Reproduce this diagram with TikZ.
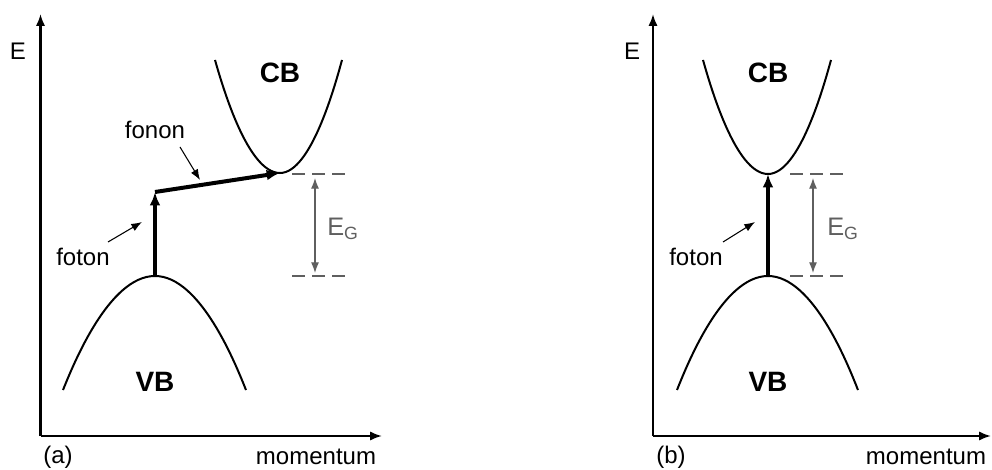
\documentclass[tikz,border=0pt]{standalone}
\usepackage{fontspec}
\setmainfont{Liberation Sans}
\usetikzlibrary{arrows.meta}
\definecolor{gapgray}{RGB}{95,95,95}
\tikzset{
  axis/.style={line width=1.6pt,-{Latex[length=9pt,width=7pt]}},
  band/.style={line width=1.5pt},
  trans/.style={line width=3pt,-{Latex[length=10pt,width=8pt]}},
  pointer/.style={line width=0.8pt,-{Latex[length=8pt,width=6pt]}},
  gapline/.style={gapgray,line width=1.5pt,dash pattern=on 9.75pt off 5.25pt},
  gaparrow/.style={gapgray,line width=0.9pt,{Latex[length=8pt,width=6pt]}-{Latex[length=8pt,width=6pt]}},
  lbl/.style={font=\fontsize{18}{20}\selectfont,inner sep=0pt},
  bandlbl/.style={font=\fontsize{21}{24}\selectfont\bfseries,inner sep=0pt},
  eglbl/.style={font=\fontsize{19}{21}\selectfont,text=gapgray,inner sep=0pt}
}
\begin{document}
\begin{tikzpicture}[x=0.75pt,y=-0.75pt]
\useasboundingbox (0,0) rectangle (992,470);
% ---------- panel (a) ----------
\coordinate (aO) at (40.5,436);
\coordinate (aY) at (40.5,14);
\coordinate (aX) at (382,436);
\draw[axis] (aO) -- (aY);
\draw[axis] (aO) -- (aX);
\node[lbl] (aE) at (18,51) {E};
\node[lbl] (alab) at (58,457) {(a)};
\node[lbl] (amom) at (316,457) {momentum};
\coordinate (aCBmin) at (280,173);
\coordinate (aVBmax) at (155,276);
\coordinate (aMid) at (155,192);
\draw[band] (215,60) parabola bend (aCBmin) (342,60);
\draw[band] (63,390) parabola bend (aVBmax) (246,390);
\node[bandlbl] (aCB) at (280,73) {CB};
\node[bandlbl] (aVB) at (155,382) {VB};
\draw[trans] (aVBmax) -- (aMid);
\draw[trans] (aMid) -- (aCBmin);
\node[lbl] (afonon) at (155,130) {fonon};
\node[lbl] (afoton) at (83,257) {foton};
\coordinate (afononT) at (200,180);
\coordinate (afotonT) at (142,222);
\draw[pointer] (180,147) -- (afononT);
\draw[pointer] (108,242) -- (afotonT);
\draw[gapline] (292,174) -- (346,174);
\draw[gapline] (292,276) -- (346,276);
\draw[gaparrow] (315,178) -- (315,273);
\node[eglbl] (aEG) at (343,229) {E\textsubscript{G}};
% ---------- panel (b) ----------
\coordinate (bO) at (653,436);
\coordinate (bY) at (653,14);
\coordinate (bX) at (991,436);
\draw[axis] (bO) -- (bY);
\draw[axis] (bO) -- (bX);
\node[lbl] (bE) at (632,51) {E};
\node[lbl] (blab) at (671,457) {(b)};
\node[lbl] (bmom) at (926,457) {momentum};
\coordinate (bCBmin) at (768,174);
\coordinate (bVBmax) at (768,276);
\draw[band] (703,60) parabola bend (bCBmin) (831,60);
\draw[band] (677,390) parabola bend (bVBmax) (858,390);
\node[bandlbl] (bCB) at (768,73) {CB};
\node[bandlbl] (bVB) at (768,382) {VB};
\draw[trans] (bVBmax) -- (bCBmin);
\node[lbl] (bfoton) at (696,257) {foton};
\coordinate (bfotonT) at (755,222);
\draw[pointer] (723,242) -- (bfotonT);
\draw[gapline] (790,174) -- (846,174);
\draw[gapline] (790,276) -- (846,276);
\draw[gaparrow] (813,178) -- (813,273);
\node[eglbl] (bEG) at (843,229) {E\textsubscript{G}};
\end{tikzpicture}
\end{document}
